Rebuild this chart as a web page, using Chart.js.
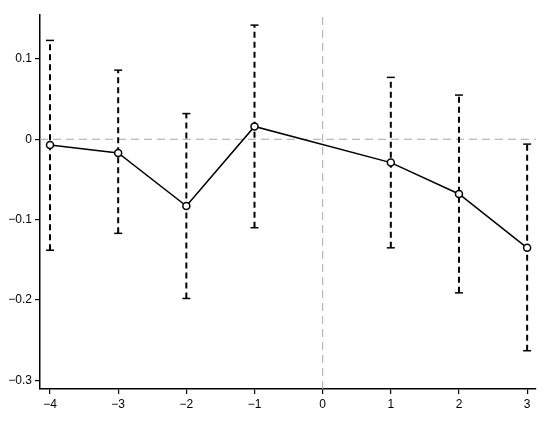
<!DOCTYPE html>
<html>
<head>
<meta charset="utf-8">
<script src="https://cdn.jsdelivr.net/npm/chart.js@4/dist/chart.umd.min.js"></script>
<style>
  html, body { margin: 0; padding: 0; background: #fff; }
  #wrap { width: 550px; height: 422px; }
</style>
</head>
<body>
<div id="wrap"><canvas id="c" width="550" height="422"></canvas></div>
<script>
// event-time periods and estimates
var periods = [-4, -3, -2, -1, 1, 2, 3];
var coef    = [-0.007, -0.017, -0.083, 0.016, -0.029, -0.068, -0.135];
var upper   = [0.123, 0.086, 0.032, 0.142, 0.077, 0.055, -0.006];
var lower   = [-0.138, -0.117, -0.198, -0.110, -0.135, -0.191, -0.263];

var xTicks = [-4, -3, -2, -1, 0, 1, 2, 3];
var yTicks = [-0.3, -0.2, -0.1, 0, 0.1];
var xRange = [-4.147, 3.13];
var yRange = [-0.3106, 0.1546];

var refColor = '#a2abab';

function fmt(v) {
  var s = (Math.round(v * 10) / 10).toString();
  return s.charAt(0) === '-' ? '\u2212' + s.slice(1) : s;
}

var datasets = [];

// main series
datasets.push({
  data: periods.map(function (p, i) { return { x: p, y: coef[i] }; }),
  borderColor: '#000', borderWidth: 1.5,
  pointStyle: 'circle', pointRadius: 3.5,
  pointBorderColor: '#000', pointBackgroundColor: '#fff', pointBorderWidth: 1.5,
  order: 0
});

// confidence intervals
periods.forEach(function (p, i) {
  datasets.push({
    data: [{ x: p, y: lower[i] }, { x: p, y: upper[i] }],
    borderColor: '#000', borderWidth: 2, borderDash: [6, 4],
    pointStyle: 'line', pointRadius: 4,
    pointBorderColor: '#000', pointBorderWidth: 1.5,
    order: 1
  });
});

// reference lines at 0
datasets.push({
  data: [{ x: xRange[0], y: 0 }, { x: xRange[1], y: 0 }],
  borderColor: refColor, borderWidth: 1, borderDash: [8, 5], pointRadius: 0, order: 2
});
datasets.push({
  data: [{ x: 0, y: yRange[0] }, { x: 0, y: yRange[1] }],
  borderColor: refColor, borderWidth: 1, borderDash: [8, 5], pointRadius: 0, order: 2
});

new Chart(document.getElementById('c'), {
  type: 'line',
  data: { datasets: datasets },
  options: {
    responsive: false,
    animation: false,
    layout: { padding: { top: 15, right: 14, left: 0, bottom: 0 } },
    plugins: { legend: { display: false }, tooltip: { enabled: false } },
    scales: {
      x: {
        type: 'linear', min: xRange[0], max: xRange[1],
        afterBuildTicks: function (s) { s.ticks = xTicks.map(function (v) { return { value: v }; }); },
        afterFit: function (s) { s.height = 33; },
        grid: { drawOnChartArea: false, drawTicks: true, tickLength: 5, color: '#000', lineWidth: 1.2 },
        border: { display: true, color: '#000', width: 1.5 },
        ticks: { color: '#000', padding: 3, maxRotation: 0, font: { family: 'Liberation Sans', size: 12 },
          callback: function (v) { return fmt(v); } }
      },
      y: {
        type: 'linear', min: yRange[0], max: yRange[1],
        afterBuildTicks: function (s) { s.ticks = yTicks.map(function (v) { return { value: v }; }); },
        afterFit: function (s) { s.width = 40; },
        grid: { drawOnChartArea: false, drawTicks: true, tickLength: 5, color: '#000', lineWidth: 1.2 },
        border: { display: true, color: '#000', width: 1.5 },
        ticks: { color: '#000', padding: 3, font: { family: 'Liberation Sans', size: 12 },
          callback: function (v) { return fmt(v); } }
      }
    }
  }
});
</script>
</body>
</html>
